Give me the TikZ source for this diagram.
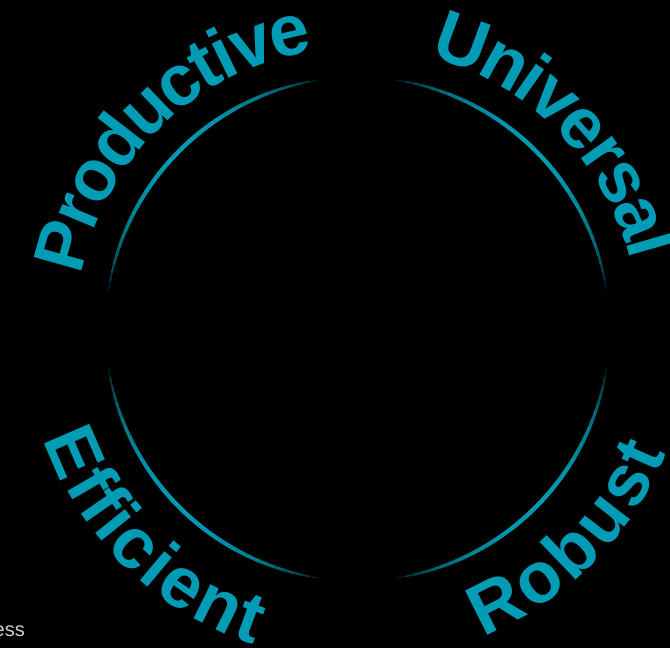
\documentclass[tikz,border=0pt]{standalone}
\usepackage{fontspec}
\setmainfont{Liberation Sans}
\usetikzlibrary{decorations.text}
\definecolor{ringteal}{HTML}{009BB4}
\definecolor{essgray}{HTML}{D0D0D0}
\newcommand{\wordfont}{\fontsize{72}{80}\selectfont\bfseries}

\begin{document}
\begin{tikzpicture}[x=1pt,y=1pt]
            \tikzstyle{ring word}=[decorate, decoration={text along path, text align=center, raise=-25.5pt, text color=ringteal}];
            \path[use as bounding box, fill=black] (0,0) rectangle (670,648);
            \coordinate (c) at (357.5,319);
            % four quarter arcs, bright in the middle and fading out at the ends
            \foreach \q in {0,90,180,270}
              \foreach \i in {0,...,35} {
                \pgfmathsetmacro{\a}{\q+9+2*\i}
                \pgfmathsetmacro{\b}{\a+2.1}
                \pgfmathsetmacro{\f}{sqrt(sin(180*(\i+0.5)/36))}
                \pgfmathtruncatemacro{\p}{100*\f}
                \pgfmathsetmacro{\w}{0.4+4*\f}
                \draw[shift={(c)}, ringteal!\p!black, line width=\w pt] (\a:252) arc (\a:\b:252);
              }
            \path[ring word, decoration={text={|\wordfont|Productive}}] (c) ++(174:307) arc (174:94:307);
            \path[ring word, decoration={text={|\wordfont|Universal}}] (c) ++(84.5:307) arc (84.5:4.5:307);
            \path[ring word, decoration={text={|\wordfont|Efficient}}] (c) ++(185.5:307) arc (185.5:265.5:307);
            \path[ring word, decoration={text={|\wordfont|Robust}}] (c) ++(275:307) arc (275:355:307);
            \node[anchor=base east, inner sep=0, text=essgray, font=\fontsize{20}{24}\selectfont] (ess) at (25,11) {ess};
\end{tikzpicture}
\end{document}
